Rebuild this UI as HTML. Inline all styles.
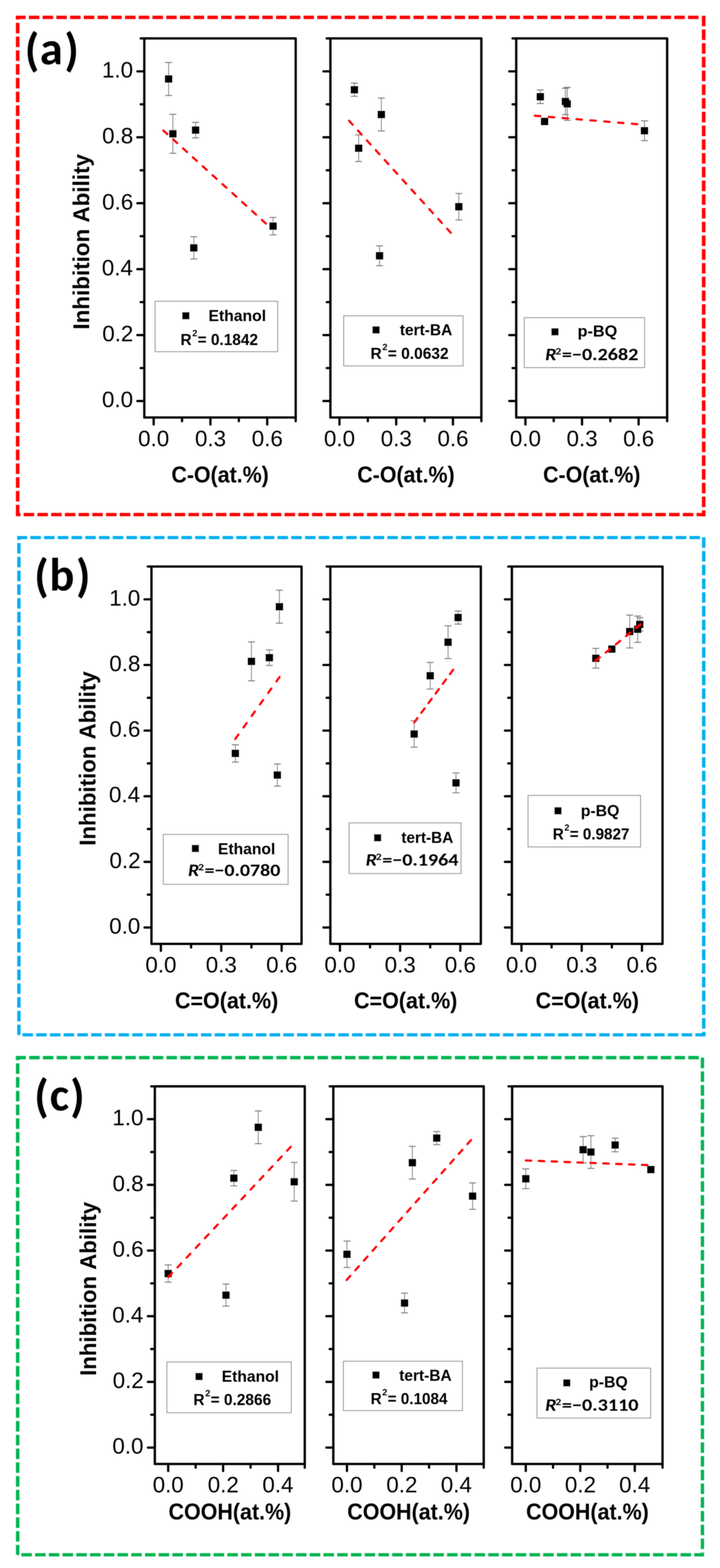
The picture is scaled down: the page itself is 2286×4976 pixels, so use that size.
<!DOCTYPE html>
<html lang="en"><head><meta charset="utf-8"><title>Inhibition Ability vs. oxygen functional groups</title>
<style>
html,body{margin:0;padding:0;background:#fff;}
body{width:2286px;height:4976px;overflow:hidden;}
svg{display:block;}
text{font-kerning:none;}
.r{font-family:"Liberation Sans",Arial,Helvetica,sans-serif;font-weight:normal;}
.b{font-family:"Liberation Sans",Arial,Helvetica,sans-serif;font-weight:bold;}
.c{font-family:Carlito,Calibri,"Liberation Sans",sans-serif;font-weight:bold;}
.ci{font-family:Carlito,Calibri,"Liberation Sans",sans-serif;font-weight:bold;font-style:italic;}
</style></head>
<body>
<svg width="2286" height="4976" viewBox="0 0 2286 4976">
<defs><filter id="soft" x="-2%" y="-2%" width="104%" height="104%"><feGaussianBlur stdDeviation="1"/></filter><filter id="softt" x="-25%" y="-25%" width="150%" height="150%"><feGaussianBlur stdDeviation="1"/></filter></defs>
<rect width="2286" height="4976" fill="#fff"/>
<g filter="url(#soft)">
<line x1="50.3" y1="55.2" x2="2228" y2="55.2" stroke="#FF0000" stroke-width="10.8" stroke-dasharray="33.3 10.3" stroke-dashoffset="2.2"/>
<line x1="2234.2" y1="49.9" x2="2234.2" y2="1638.5" stroke="#FF0000" stroke-width="11.4" stroke-dasharray="33.3 10.3" stroke-dashoffset="0"/>
<line x1="2240" y1="1633" x2="50.6" y2="1633" stroke="#FF0000" stroke-width="10.6" stroke-dasharray="33.3 10.3" stroke-dashoffset="4.9"/>
<line x1="56.1" y1="50.3" x2="56.1" y2="1638.3" stroke="#FF0000" stroke-width="11.2" stroke-dasharray="33.4 10.3" stroke-dashoffset="21.6"/>
<path d="M535.36 198.22V302.94M548.88 362.84V486.41M620.98 388.29V437.51M615.27 751.35V821.72M867 689.99V745.28" stroke="#7a7a7a" stroke-width="2.4" fill="none"/>
<path d="M524.36 198.22h22M524.36 302.94h22M537.88 362.84h22M537.88 486.41h22M609.98 388.29h22M609.98 437.51h22M604.27 751.35h22M604.27 821.72h22M856 689.99h22M856 745.28h22" stroke="#7a7a7a" stroke-width="3" fill="none"/>
<path d="M523.96 239.18h22.8v22.8h-22.8zM537.48 413.22h22.8v22.8h-22.8zM609.58 401.5h22.8v22.8h-22.8zM603.87 775.14h22.8v22.8h-22.8zM855.6 706.23h22.8v22.8h-22.8z" fill="#000"/>
<line x1="518.42" y1="414.08" x2="844.28" y2="709.42" stroke="#FF0000" stroke-width="6.8" stroke-linecap="round" stroke-dasharray="17.2 25.06"/>
<path d="M458.2 121.89H938.8V1324.9H458.2z" stroke="#000" stroke-width="7.4" fill="none" stroke-linejoin="round" stroke-linecap="round"/>
<path d="M458.2 1272.6H436.2M458.2 1063.38H436.2M458.2 854.16H436.2M458.2 644.94H436.2M458.2 435.72H436.2M458.2 226.5H436.2M458.2 1167.99H446.7M458.2 958.77H446.7M458.2 749.55H446.7M458.2 540.33H446.7M458.2 331.11H446.7M458.2 121.89H446.7M487.9 1324.9V1346.9M668.14 1324.9V1346.9M848.38 1324.9V1346.9M578.02 1324.9V1336.4M758.26 1324.9V1336.4M938.8 1324.9V1336.4" stroke="#000" stroke-width="7.2" stroke-linecap="round"/>
<rect x="492.5" y="956.2" width="389.1" height="159.8" fill="#fff" stroke="#8a8a8a" stroke-width="2.6"/>
<rect x="578.6" y="990.6" width="22.8" height="22.8" fill="#000"/>
<path d="M1125.24 263.95V305.85M1138.75 428.08V512.5M1210.81 311.3V415.62M1205.11 780.32V843.17M1456.72 613.89V698.1" stroke="#7a7a7a" stroke-width="2.4" fill="none"/>
<path d="M1114.24 263.95h22M1114.24 305.85h22M1127.75 428.08h22M1127.75 512.5h22M1199.81 311.3h22M1199.81 415.62h22M1194.11 780.32h22M1194.11 843.17h22M1445.72 613.89h22M1445.72 698.1h22" stroke="#7a7a7a" stroke-width="3" fill="none"/>
<path d="M1113.84 273.5h22.8v22.8h-22.8zM1127.35 458.89h22.8v22.8h-22.8zM1199.41 352.06h22.8v22.8h-22.8zM1193.71 800.34h22.8v22.8h-22.8zM1445.32 644.6h22.8v22.8h-22.8z" fill="#000"/>
<line x1="1108.19" y1="383.22" x2="1431.31" y2="738.78" stroke="#FF0000" stroke-width="6.8" stroke-linecap="round" stroke-dasharray="17.2 24.91"/>
<path d="M1049 121.89H1528.3V1324.9H1049z" stroke="#000" stroke-width="7.4" fill="none" stroke-linejoin="round" stroke-linecap="round"/>
<path d="M1049 1272.6H1027M1049 1063.38H1027M1049 854.16H1027M1049 644.94H1027M1049 435.72H1027M1049 226.5H1027M1049 1167.99H1037.5M1049 958.77H1037.5M1049 749.55H1037.5M1049 540.33H1037.5M1049 331.11H1037.5M1049 121.89H1037.5M1077.8 1324.9V1346.9M1257.95 1324.9V1346.9M1438.1 1324.9V1346.9M1167.88 1324.9V1336.4M1348.03 1324.9V1336.4M1528.3 1324.9V1336.4" stroke="#000" stroke-width="7.2" stroke-linecap="round"/>
<rect x="1091.3" y="1002.2" width="378.8" height="158.8" fill="#fff" stroke="#8a8a8a" stroke-width="2.6"/>
<rect x="1182.6" y="1035.6" width="22.8" height="22.8" fill="#000"/>
<path d="M1715.52 285.51V328.45M1800.88 277.14V381.86M1795.19 280.28V364.05M2046.17 383.43V446.26" stroke="#7a7a7a" stroke-width="2.4" fill="none"/>
<path d="M1704.52 285.51h22M1704.52 328.45h22M1789.88 277.14h22M1789.88 381.86h22M1784.19 280.28h22M1784.19 364.05h22M2035.17 383.43h22M2035.17 446.26h22" stroke="#7a7a7a" stroke-width="3" fill="none"/>
<path d="M1704.12 295.58h22.8v22.8h-22.8zM1717.6 374.12h22.8v22.8h-22.8zM1789.48 318.1h22.8v22.8h-22.8zM1783.79 310.77h22.8v22.8h-22.8zM2034.77 403.44h22.8v22.8h-22.8z" fill="#000"/>
<line x1="1698.39" y1="367.28" x2="2023.41" y2="394.12" stroke="#FF0000" stroke-width="6.8" stroke-linecap="round" stroke-dasharray="17.2 26.93"/>
<path d="M1639 121.89H2118.2V1324.9H1639z" stroke="#000" stroke-width="7.4" fill="none" stroke-linejoin="round" stroke-linecap="round"/>
<path d="M1639 1272.6H1617M1639 1063.38H1617M1639 854.16H1617M1639 644.94H1617M1639 435.72H1617M1639 226.5H1617M1639 1167.99H1627.5M1639 958.77H1627.5M1639 749.55H1627.5M1639 540.33H1627.5M1639 331.11H1627.5M1639 121.89H1627.5M1668.2 1324.9V1346.9M1847.9 1324.9V1346.9M2027.6 1324.9V1346.9M1758.05 1324.9V1336.4M1937.75 1324.9V1336.4M2118.2 1324.9V1336.4" stroke="#000" stroke-width="7.2" stroke-linecap="round"/>
<rect x="1664.8" y="1008.1" width="381.6" height="158.4" fill="#fff" stroke="#8a8a8a" stroke-width="2.6"/>
<rect x="1750.6" y="1041.6" width="22.8" height="22.8" fill="#000"/>
</g>
<g filter="url(#softt)"><text class="b" x="662.02" y="1018.8" font-size="49.5" textLength="182.76" lengthAdjust="spacingAndGlyphs">Ethanol</text></g>
<g filter="url(#softt)"><text class="b" x="572.98" y="1094.5" font-size="49.8" textLength="35.31" lengthAdjust="spacingAndGlyphs">R</text><text class="b" x="610.44" y="1066.61" font-size="29.5" textLength="16.11" lengthAdjust="spacingAndGlyphs">2</text><text class="b" x="627.52" y="1094.5" font-size="49.8" textLength="191.69" lengthAdjust="spacingAndGlyphs">= 0.1842</text></g>
<g filter="url(#softt)"><text class="r" x="438.55" y="1415.5" font-size="71" textLength="98.7" lengthAdjust="spacingAndGlyphs">0.0</text></g>
<g filter="url(#softt)"><text class="r" x="618.96" y="1415.5" font-size="71" textLength="98.7" lengthAdjust="spacingAndGlyphs">0.3</text></g>
<g filter="url(#softt)"><text class="r" x="799.2" y="1415.5" font-size="71" textLength="98.7" lengthAdjust="spacingAndGlyphs">0.6</text></g>
<g filter="url(#softt)"><text class="b" x="544.22" y="1531" font-size="71.5" textLength="309.16" lengthAdjust="spacingAndGlyphs">C-O(at.%)</text></g>
<g filter="url(#softt)"><text class="r" x="323.87" y="1292.22" font-size="71" textLength="98.7" lengthAdjust="spacingAndGlyphs">0.0</text></g>
<g filter="url(#softt)"><text class="r" x="324.67" y="1083" font-size="71" textLength="98.7" lengthAdjust="spacingAndGlyphs">0.2</text></g>
<g filter="url(#softt)"><text class="r" x="323.18" y="873.78" font-size="71" textLength="98.7" lengthAdjust="spacingAndGlyphs">0.4</text></g>
<g filter="url(#softt)"><text class="r" x="324.22" y="664.56" font-size="71" textLength="98.7" lengthAdjust="spacingAndGlyphs">0.6</text></g>
<g filter="url(#softt)"><text class="r" x="324.19" y="455.34" font-size="71" textLength="98.7" lengthAdjust="spacingAndGlyphs">0.8</text></g>
<g filter="url(#softt)"><text class="r" x="323.87" y="246.12" font-size="71" textLength="98.7" lengthAdjust="spacingAndGlyphs">1.0</text></g>
<g filter="url(#softt)"><text class="b" x="1269.45" y="1064.3" font-size="49.5" textLength="166.5" lengthAdjust="spacingAndGlyphs">tert-BA</text></g>
<g filter="url(#softt)"><text class="b" x="1176.36" y="1139.1" font-size="49.8" textLength="35.56" lengthAdjust="spacingAndGlyphs">R</text><text class="b" x="1214.08" y="1111.21" font-size="29.5" textLength="16.22" lengthAdjust="spacingAndGlyphs">2</text><text class="b" x="1231.28" y="1139.1" font-size="49.8" textLength="193.04" lengthAdjust="spacingAndGlyphs">= 0.0632</text></g>
<g filter="url(#softt)"><text class="r" x="1028.45" y="1415.5" font-size="71" textLength="98.7" lengthAdjust="spacingAndGlyphs">0.0</text></g>
<g filter="url(#softt)"><text class="r" x="1208.77" y="1415.5" font-size="71" textLength="98.7" lengthAdjust="spacingAndGlyphs">0.3</text></g>
<g filter="url(#softt)"><text class="r" x="1388.92" y="1415.5" font-size="71" textLength="98.7" lengthAdjust="spacingAndGlyphs">0.6</text></g>
<g filter="url(#softt)"><text class="b" x="1134.37" y="1531" font-size="71.5" textLength="309.16" lengthAdjust="spacingAndGlyphs">C-O(at.%)</text></g>
<g filter="url(#softt)"><text class="b" x="1833.86" y="1067.5" font-size="49.5" textLength="125.86" lengthAdjust="spacingAndGlyphs">p-BQ</text></g>
<g filter="url(#softt)"><text class="ci" x="1730.96" y="1142.8" font-size="54.5" textLength="36.02" lengthAdjust="spacingAndGlyphs">R</text><text class="c" x="1763.47" y="1124.82" font-size="31" textLength="18.44" lengthAdjust="spacingAndGlyphs">2</text><text class="c" x="1783.94" y="1142.8" font-size="54.5" textLength="242.92" lengthAdjust="spacingAndGlyphs">=−0.2682</text></g>
<g filter="url(#softt)"><text class="r" x="1618.85" y="1415.5" font-size="71" textLength="98.7" lengthAdjust="spacingAndGlyphs">0.0</text></g>
<g filter="url(#softt)"><text class="r" x="1798.72" y="1415.5" font-size="71" textLength="98.7" lengthAdjust="spacingAndGlyphs">0.3</text></g>
<g filter="url(#softt)"><text class="r" x="1978.42" y="1415.5" font-size="71" textLength="98.7" lengthAdjust="spacingAndGlyphs">0.6</text></g>
<g filter="url(#softt)"><text class="b" x="1724.32" y="1531" font-size="71.5" textLength="309.16" lengthAdjust="spacingAndGlyphs">C-O(at.%)</text></g>
<g filter="url(#softt)"><text class="b" transform="translate(282.9 1041.25) rotate(-90)" x="-4.76" y="0" font-size="71.5" textLength="557.14" lengthAdjust="spacingAndGlyphs">Inhibition Ability</text></g>
<g filter="url(#softt)"><text class="c" font-size="147"><tspan x="78.68" y="207.65">(</tspan><tspan x="126.41" y="204.15">a</tspan><tspan x="204.39" y="207.65">)</tspan></text></g>
<g filter="url(#soft)">
<line x1="54.6" y1="1706" x2="2228.9" y2="1706" stroke="#00B0F0" stroke-width="10.2" stroke-dasharray="33.3 10.3" stroke-dashoffset="1.8"/>
<line x1="2234.3" y1="1705.1" x2="2234.3" y2="3288.8" stroke="#00B0F0" stroke-width="10.8" stroke-dasharray="33.3 10.3" stroke-dashoffset="0"/>
<line x1="2239.8" y1="3284" x2="60" y2="3284" stroke="#00B0F0" stroke-width="10.2" stroke-dasharray="33.3 10.3" stroke-dashoffset="1.2"/>
<line x1="60" y1="1701.4" x2="60" y2="3284.1" stroke="#00B0F0" stroke-width="10.8" stroke-dasharray="33.3 10.36" stroke-dashoffset="21.5"/>
<path d="M887.17 1873.1V1977.51M798.35 2037.23V2160.43M855.22 2062.6V2111.67M880.53 2424.59V2494.75M747.23 2363.41V2418.54" stroke="#7a7a7a" stroke-width="2.4" fill="none"/>
<path d="M876.17 1873.1h22M876.17 1977.51h22M787.35 2037.23h22M787.35 2160.43h22M844.22 2062.6h22M844.22 2111.67h22M869.53 2424.59h22M869.53 2494.75h22M736.23 2363.41h22M736.23 2418.54h22" stroke="#7a7a7a" stroke-width="3" fill="none"/>
<path d="M875.77 1913.9h22.8v22.8h-22.8zM786.95 2087.43h22.8v22.8h-22.8zM843.82 2075.74h22.8v22.8h-22.8zM869.13 2448.27h22.8v22.8h-22.8zM735.83 2379.57h22.8v22.8h-22.8z" fill="#000"/>
<line x1="746.88" y1="2345.14" x2="887.62" y2="2148.46" stroke="#FF0000" stroke-width="6.8" stroke-linecap="round" stroke-dasharray="17.2 27.73"/>
<path d="M480.9 1797.87H957.4V2995.37H480.9z" stroke="#000" stroke-width="7.4" fill="none" stroke-linejoin="round" stroke-linecap="round"/>
<path d="M480.9 2943.3H458.9M480.9 2735.04H458.9M480.9 2526.78H458.9M480.9 2318.52H458.9M480.9 2110.26H458.9M480.9 1902H458.9M480.9 2839.17H469.4M480.9 2630.91H469.4M480.9 2422.65H469.4M480.9 2214.39H469.4M480.9 2006.13H469.4M480.9 1797.87H469.4M510.8 2995.37V3017.37M702.5 2995.37V3017.37M894.2 2995.37V3017.37M606.65 2995.37V3006.87M798.35 2995.37V3006.87" stroke="#000" stroke-width="7.2" stroke-linecap="round"/>
<rect x="518.5" y="2648" width="396.2" height="158.4" fill="#fff" stroke="#8a8a8a" stroke-width="2.6"/>
<rect x="608.9" y="2681.3" width="22.8" height="22.8" fill="#000"/>
<path d="M1454.49 1938.89V1980.61M1365.95 2102.33V2186.39M1422.64 1986.03V2089.92M1447.87 2453.09V2515.67M1314.99 2287.36V2371.21" stroke="#7a7a7a" stroke-width="2.4" fill="none"/>
<path d="M1443.49 1938.89h22M1443.49 1980.61h22M1354.95 2102.33h22M1354.95 2186.39h22M1411.64 1986.03h22M1411.64 2089.92h22M1436.87 2453.09h22M1436.87 2515.67h22M1303.99 2287.36h22M1303.99 2371.21h22" stroke="#7a7a7a" stroke-width="3" fill="none"/>
<path d="M1443.09 1948.35h22.8v22.8h-22.8zM1354.55 2132.96h22.8v22.8h-22.8zM1411.24 2026.58h22.8v22.8h-22.8zM1436.47 2472.98h22.8v22.8h-22.8zM1303.59 2317.89h22.8v22.8h-22.8z" fill="#000"/>
<line x1="1315.02" y1="2292.67" x2="1438.78" y2="2125.53" stroke="#FF0000" stroke-width="6.8" stroke-linecap="round" stroke-dasharray="17.2 20.95"/>
<path d="M1048.9 1797.87H1526.6V2995.37H1048.9z" stroke="#000" stroke-width="7.4" fill="none" stroke-linejoin="round" stroke-linecap="round"/>
<path d="M1048.9 2943.3H1026.9M1048.9 2735.04H1026.9M1048.9 2526.78H1026.9M1048.9 2318.52H1026.9M1048.9 2110.26H1026.9M1048.9 1902H1026.9M1048.9 2839.17H1037.4M1048.9 2630.91H1037.4M1048.9 2422.65H1037.4M1048.9 2214.39H1037.4M1048.9 2006.13H1037.4M1048.9 1797.87H1037.4M1079.3 2995.37V3017.37M1270.4 2995.37V3017.37M1461.5 2995.37V3017.37M1174.85 2995.37V3006.87M1365.95 2995.37V3006.87" stroke="#000" stroke-width="7.2" stroke-linecap="round"/>
<rect x="1108.5" y="2611.5" width="355.2" height="160.6" fill="#fff" stroke="#8a8a8a" stroke-width="2.6"/>
<rect x="1187.6" y="2647.3" width="22.8" height="22.8" fill="#000"/>
<path d="M2031.19 1960.27V2003.04M1999.31 1951.93V2056.23M2024.56 1955.06V2038.5M1891.58 2057.79V2120.37" stroke="#7a7a7a" stroke-width="2.4" fill="none"/>
<path d="M2020.19 1960.27h22M2020.19 2003.04h22M1988.31 1951.93h22M1988.31 2056.23h22M2013.56 1955.06h22M2013.56 2038.5h22M1880.58 2057.79h22M1880.58 2120.37h22" stroke="#7a7a7a" stroke-width="3" fill="none"/>
<path d="M2019.79 1970.25h22.8v22.8h-22.8zM1931.17 2048.48h22.8v22.8h-22.8zM1987.91 1992.68h22.8v22.8h-22.8zM2013.16 1985.38h22.8v22.8h-22.8zM1880.17 2077.68h22.8v22.8h-22.8z" fill="#000"/>
<line x1="1891.14" y1="2096.96" x2="2033.26" y2="1981.64" stroke="#FF0000" stroke-width="6.8" stroke-linecap="round" stroke-dasharray="17.2 24.25"/>
<path d="M1625.2 1797.87H2103.5V2995.37H1625.2z" stroke="#000" stroke-width="7.4" fill="none" stroke-linejoin="round" stroke-linecap="round"/>
<path d="M1625.2 2943.3H1603.2M1625.2 2735.04H1603.2M1625.2 2526.78H1603.2M1625.2 2318.52H1603.2M1625.2 2110.26H1603.2M1625.2 1902H1603.2M1625.2 2839.17H1613.7M1625.2 2630.91H1613.7M1625.2 2422.65H1613.7M1625.2 2214.39H1613.7M1625.2 2006.13H1613.7M1625.2 1797.87H1613.7M1655.7 2995.37V3017.37M1846.95 2995.37V3017.37M2038.2 2995.37V3017.37M1751.33 2995.37V3006.87M1942.58 2995.37V3006.87" stroke="#000" stroke-width="7.2" stroke-linecap="round"/>
<rect x="1676.7" y="2524.3" width="357" height="163.4" fill="#fff" stroke="#8a8a8a" stroke-width="2.6"/>
<rect x="1760.2" y="2561.6" width="22.8" height="22.8" fill="#000"/>
</g>
<g filter="url(#softt)"><text class="b" x="692.13" y="2710.5" font-size="49.5" textLength="182.04" lengthAdjust="spacingAndGlyphs">Ethanol</text></g>
<g filter="url(#softt)"><text class="ci" x="597.09" y="2779.6" font-size="54.5" textLength="35.66" lengthAdjust="spacingAndGlyphs">R</text><text class="c" x="629.27" y="2761.61" font-size="31" textLength="18.26" lengthAdjust="spacingAndGlyphs">2</text><text class="c" x="649.54" y="2779.6" font-size="54.5" textLength="240.51" lengthAdjust="spacingAndGlyphs">=−0.0780</text></g>
<g filter="url(#softt)"><text class="r" x="461.45" y="3085.5" font-size="71" textLength="98.7" lengthAdjust="spacingAndGlyphs">0.0</text></g>
<g filter="url(#softt)"><text class="r" x="653.32" y="3085.5" font-size="71" textLength="98.7" lengthAdjust="spacingAndGlyphs">0.3</text></g>
<g filter="url(#softt)"><text class="r" x="845.02" y="3085.5" font-size="71" textLength="98.7" lengthAdjust="spacingAndGlyphs">0.6</text></g>
<g filter="url(#softt)"><text class="b" x="555.4" y="3200" font-size="71.5" textLength="328.1" lengthAdjust="spacingAndGlyphs">C=O(at.%)</text></g>
<g filter="url(#softt)"><text class="r" x="346.67" y="2962.92" font-size="71" textLength="98.7" lengthAdjust="spacingAndGlyphs">0.0</text></g>
<g filter="url(#softt)"><text class="r" x="347.47" y="2754.66" font-size="71" textLength="98.7" lengthAdjust="spacingAndGlyphs">0.2</text></g>
<g filter="url(#softt)"><text class="r" x="345.98" y="2546.4" font-size="71" textLength="98.7" lengthAdjust="spacingAndGlyphs">0.4</text></g>
<g filter="url(#softt)"><text class="r" x="347.02" y="2338.14" font-size="71" textLength="98.7" lengthAdjust="spacingAndGlyphs">0.6</text></g>
<g filter="url(#softt)"><text class="r" x="346.99" y="2129.88" font-size="71" textLength="98.7" lengthAdjust="spacingAndGlyphs">0.8</text></g>
<g filter="url(#softt)"><text class="r" x="346.67" y="1921.62" font-size="71" textLength="98.7" lengthAdjust="spacingAndGlyphs">1.0</text></g>
<g filter="url(#softt)"><text class="b" x="1274.36" y="2675.4" font-size="49.5" textLength="164.67" lengthAdjust="spacingAndGlyphs">tert-BA</text></g>
<g filter="url(#softt)"><text class="ci" x="1160.97" y="2747" font-size="54.5" textLength="35.86" lengthAdjust="spacingAndGlyphs">R</text><text class="c" x="1193.34" y="2729.01" font-size="31" textLength="18.36" lengthAdjust="spacingAndGlyphs">2</text><text class="c" x="1213.73" y="2747" font-size="54.5" textLength="241.89" lengthAdjust="spacingAndGlyphs">=−0.1964</text></g>
<g filter="url(#softt)"><text class="r" x="1029.95" y="3085.5" font-size="71" textLength="98.7" lengthAdjust="spacingAndGlyphs">0.0</text></g>
<g filter="url(#softt)"><text class="r" x="1221.22" y="3085.5" font-size="71" textLength="98.7" lengthAdjust="spacingAndGlyphs">0.3</text></g>
<g filter="url(#softt)"><text class="r" x="1412.32" y="3085.5" font-size="71" textLength="98.7" lengthAdjust="spacingAndGlyphs">0.6</text></g>
<g filter="url(#softt)"><text class="b" x="1124" y="3200" font-size="71.5" textLength="328.1" lengthAdjust="spacingAndGlyphs">C=O(at.%)</text></g>
<g filter="url(#softt)"><text class="b" x="1843.94" y="2589.5" font-size="49.5" textLength="122.61" lengthAdjust="spacingAndGlyphs">p-BQ</text></g>
<g filter="url(#softt)"><text class="b" x="1755.02" y="2663.5" font-size="49.8" textLength="34.91" lengthAdjust="spacingAndGlyphs">R</text><text class="b" x="1792.05" y="2635.61" font-size="29.5" textLength="15.93" lengthAdjust="spacingAndGlyphs">2</text><text class="b" x="1808.94" y="2663.5" font-size="49.8" textLength="189.54" lengthAdjust="spacingAndGlyphs">= 0.9827</text></g>
<g filter="url(#softt)"><text class="r" x="1606.35" y="3085.5" font-size="71" textLength="98.7" lengthAdjust="spacingAndGlyphs">0.0</text></g>
<g filter="url(#softt)"><text class="r" x="1797.77" y="3085.5" font-size="71" textLength="98.7" lengthAdjust="spacingAndGlyphs">0.3</text></g>
<g filter="url(#softt)"><text class="r" x="1989.02" y="3085.5" font-size="71" textLength="98.7" lengthAdjust="spacingAndGlyphs">0.6</text></g>
<g filter="url(#softt)"><text class="b" x="1700.6" y="3200" font-size="71.5" textLength="328.1" lengthAdjust="spacingAndGlyphs">C=O(at.%)</text></g>
<g filter="url(#softt)"><text class="b" transform="translate(303 2679.25) rotate(-90)" x="-4.73" y="0" font-size="71.5" textLength="553.51" lengthAdjust="spacingAndGlyphs">Inhibition Ability</text></g>
<g filter="url(#softt)"><text class="c" font-size="147"><tspan x="108.68" y="1876.75">(</tspan><tspan x="156.95" y="1873.6">b</tspan><tspan x="241.14" y="1876.75">)</tspan></text></g>
<g filter="url(#soft)">
<line x1="50.3" y1="3356.4" x2="2225" y2="3356.4" stroke="#00B551" stroke-width="10.8" stroke-dasharray="33.3 10.3" stroke-dashoffset="1.3"/>
<line x1="2230.3" y1="3356.4" x2="2230.3" y2="4927.5" stroke="#00B551" stroke-width="10.6" stroke-dasharray="33.3 10.3" stroke-dashoffset="0"/>
<line x1="2235.6" y1="4934" x2="56.2" y2="4934" stroke="#00B551" stroke-width="10.4" stroke-dasharray="33.3 10.3" stroke-dashoffset="2"/>
<line x1="56.1" y1="3350.9" x2="56.1" y2="4934" stroke="#00B551" stroke-width="11" stroke-dasharray="33.3 10.36" stroke-dashoffset="20"/>
<path d="M820.02 3525.49V3629.54M934.25 3689.05V3811.83M742.41 3714.34V3763.24M717.47 4075.08V4145M534 4014.11V4069.04" stroke="#7a7a7a" stroke-width="2.4" fill="none"/>
<path d="M809.02 3525.49h22M809.02 3629.54h22M923.25 3689.05h22M923.25 3811.83h22M731.41 3714.34h22M731.41 3763.24h22M706.47 4075.08h22M706.47 4145h22M523 4014.11h22M523 4069.04h22" stroke="#7a7a7a" stroke-width="3" fill="none"/>
<path d="M808.62 3566.11h22.8v22.8h-22.8zM922.85 3739.04h22.8v22.8h-22.8zM731.01 3727.39h22.8v22.8h-22.8zM706.07 4098.64h22.8v22.8h-22.8zM522.6 4030.18h22.8v22.8h-22.8z" fill="#000"/>
<line x1="534.53" y1="4052.92" x2="923.27" y2="3639.28" stroke="#FF0000" stroke-width="6.8" stroke-linecap="round" stroke-dasharray="17.2 25.14"/>
<path d="M491.6 3447.49H967.6V4645.9H491.6z" stroke="#000" stroke-width="7.4" fill="none" stroke-linejoin="round" stroke-linecap="round"/>
<path d="M491.6 4593.8H469.6M491.6 4385.38H469.6M491.6 4176.96H469.6M491.6 3968.54H469.6M491.6 3760.12H469.6M491.6 3551.7H469.6M491.6 4489.59H480.1M491.6 4281.17H480.1M491.6 4072.75H480.1M491.6 3864.33H480.1M491.6 3655.91H480.1M491.6 3447.49H480.1M534 4645.9V4667.9M708.4 4645.9V4667.9M882.8 4645.9V4667.9M621.2 4645.9V4657.4M795.6 4645.9V4657.4M967.6 4645.9V4657.4" stroke="#000" stroke-width="7.2" stroke-linecap="round"/>
<rect x="529.9" y="4322.2" width="394.8" height="161.1" fill="#fff" stroke="#8a8a8a" stroke-width="2.6"/>
<rect x="620.6" y="4356.9" width="22.8" height="22.8" fill="#000"/>
<path d="M1386.63 3590.9V3632.52M1500.47 3753.94V3837.81M1309.29 3637.93V3741.56M1284.44 4103.86V4166.3M1101.6 3938.53V4022.19" stroke="#7a7a7a" stroke-width="2.4" fill="none"/>
<path d="M1375.63 3590.9h22M1375.63 3632.52h22M1489.47 3753.94h22M1489.47 3837.81h22M1298.29 3637.93h22M1298.29 3741.56h22M1273.44 4103.86h22M1273.44 4166.3h22M1090.6 3938.53h22M1090.6 4022.19h22" stroke="#7a7a7a" stroke-width="3" fill="none"/>
<path d="M1375.23 3600.31h22.8v22.8h-22.8zM1489.07 3784.48h22.8v22.8h-22.8zM1297.89 3678.35h22.8v22.8h-22.8zM1273.04 4123.68h22.8v22.8h-22.8zM1090.2 3968.96h22.8v22.8h-22.8z" fill="#000"/>
<line x1="1100.66" y1="4061.96" x2="1495.54" y2="3617.94" stroke="#FF0000" stroke-width="6.8" stroke-linecap="round" stroke-dasharray="17.2 24.01"/>
<path d="M1058.3 3447.49H1535.8V4645.9H1058.3z" stroke="#000" stroke-width="7.4" fill="none" stroke-linejoin="round" stroke-linecap="round"/>
<path d="M1058.3 4593.8H1036.3M1058.3 4385.38H1036.3M1058.3 4176.96H1036.3M1058.3 3968.54H1036.3M1058.3 3760.12H1036.3M1058.3 3551.7H1036.3M1058.3 4489.59H1046.8M1058.3 4281.17H1046.8M1058.3 4072.75H1046.8M1058.3 3864.33H1046.8M1058.3 3655.91H1046.8M1058.3 3447.49H1046.8M1101.6 4645.9V4667.9M1275.4 4645.9V4667.9M1449.2 4645.9V4667.9M1188.5 4645.9V4657.4M1362.3 4645.9V4657.4M1535.8 4645.9V4657.4" stroke="#000" stroke-width="7.2" stroke-linecap="round"/>
<rect x="1090.2" y="4319.9" width="378" height="156.6" fill="#fff" stroke="#8a8a8a" stroke-width="2.6"/>
<rect x="1182.4" y="4352.3" width="22.8" height="22.8" fill="#000"/>
<path d="M1953.12 3612.23V3654.89M1876.13 3603.9V3707.95M1851.4 3607.03V3690.27M1669.4 3709.52V3771.95" stroke="#7a7a7a" stroke-width="2.4" fill="none"/>
<path d="M1942.12 3612.23h22M1942.12 3654.89h22M1865.13 3603.9h22M1865.13 3707.95h22M1840.4 3607.03h22M1840.4 3690.27h22M1658.4 3709.52h22M1658.4 3771.95h22" stroke="#7a7a7a" stroke-width="3" fill="none"/>
<path d="M1941.72 3622.16h22.8v22.8h-22.8zM2055.03 3700.2h22.8v22.8h-22.8zM1864.73 3644.53h22.8v22.8h-22.8zM1840 3637.25h22.8v22.8h-22.8zM1658 3729.33h22.8v22.8h-22.8z" fill="#000"/>
<line x1="1669.6" y1="3682.63" x2="2055.4" y2="3697.37" stroke="#FF0000" stroke-width="6.8" stroke-linecap="round" stroke-dasharray="17.2 23.79"/>
<path d="M1626 3447.49H2103.5V4645.9H1626z" stroke="#000" stroke-width="7.4" fill="none" stroke-linejoin="round" stroke-linecap="round"/>
<path d="M1626 4593.8H1604M1626 4385.38H1604M1626 4176.96H1604M1626 3968.54H1604M1626 3760.12H1604M1626 3551.7H1604M1626 4489.59H1614.5M1626 4281.17H1614.5M1626 4072.75H1614.5M1626 3864.33H1614.5M1626 3655.91H1614.5M1626 3447.49H1614.5M1669.4 4645.9V4667.9M1842.4 4645.9V4667.9M2015.4 4645.9V4667.9M1755.9 4645.9V4657.4M1928.9 4645.9V4657.4M2103.5 4645.9V4657.4" stroke="#000" stroke-width="7.2" stroke-linecap="round"/>
<rect x="1705" y="4341.8" width="360.6" height="158.4" fill="#fff" stroke="#8a8a8a" stroke-width="2.6"/>
<rect x="1788.1" y="4377.2" width="22.8" height="22.8" fill="#000"/>
</g>
<g filter="url(#softt)"><text class="b" x="703.93" y="4385" font-size="49.5" textLength="181.83" lengthAdjust="spacingAndGlyphs">Ethanol</text></g>
<g filter="url(#softt)"><text class="b" x="614.07" y="4459.1" font-size="49.8" textLength="35.4" lengthAdjust="spacingAndGlyphs">R</text><text class="b" x="651.63" y="4431.21" font-size="29.5" textLength="16.15" lengthAdjust="spacingAndGlyphs">2</text><text class="b" x="668.74" y="4459.1" font-size="49.8" textLength="192.18" lengthAdjust="spacingAndGlyphs">= 0.2866</text></g>
<g filter="url(#softt)"><text class="r" x="484.65" y="4736.3" font-size="71" textLength="98.7" lengthAdjust="spacingAndGlyphs">0.0</text></g>
<g filter="url(#softt)"><text class="r" x="659.45" y="4736.3" font-size="71" textLength="98.7" lengthAdjust="spacingAndGlyphs">0.2</text></g>
<g filter="url(#softt)"><text class="r" x="833.1" y="4736.3" font-size="71" textLength="98.7" lengthAdjust="spacingAndGlyphs">0.4</text></g>
<g filter="url(#softt)"><text class="b" x="535.06" y="4822" font-size="71.5" textLength="389.68" lengthAdjust="spacingAndGlyphs">COOH(at.%)</text></g>
<g filter="url(#softt)"><text class="r" x="356.87" y="4613.42" font-size="71" textLength="98.7" lengthAdjust="spacingAndGlyphs">0.0</text></g>
<g filter="url(#softt)"><text class="r" x="357.67" y="4405" font-size="71" textLength="98.7" lengthAdjust="spacingAndGlyphs">0.2</text></g>
<g filter="url(#softt)"><text class="r" x="356.18" y="4196.58" font-size="71" textLength="98.7" lengthAdjust="spacingAndGlyphs">0.4</text></g>
<g filter="url(#softt)"><text class="r" x="357.22" y="3988.16" font-size="71" textLength="98.7" lengthAdjust="spacingAndGlyphs">0.6</text></g>
<g filter="url(#softt)"><text class="r" x="357.19" y="3779.74" font-size="71" textLength="98.7" lengthAdjust="spacingAndGlyphs">0.8</text></g>
<g filter="url(#softt)"><text class="r" x="356.87" y="3571.32" font-size="71" textLength="98.7" lengthAdjust="spacingAndGlyphs">1.0</text></g>
<g filter="url(#softt)"><text class="b" x="1267.45" y="4381.5" font-size="49.5" textLength="166.6" lengthAdjust="spacingAndGlyphs">tert-BA</text></g>
<g filter="url(#softt)"><text class="b" x="1176.71" y="4455.9" font-size="49.8" textLength="34.99" lengthAdjust="spacingAndGlyphs">R</text><text class="b" x="1213.83" y="4428.01" font-size="29.5" textLength="15.96" lengthAdjust="spacingAndGlyphs">2</text><text class="b" x="1230.75" y="4455.9" font-size="49.8" textLength="189.96" lengthAdjust="spacingAndGlyphs">= 0.1084</text></g>
<g filter="url(#softt)"><text class="r" x="1052.25" y="4736.3" font-size="71" textLength="98.7" lengthAdjust="spacingAndGlyphs">0.0</text></g>
<g filter="url(#softt)"><text class="r" x="1226.45" y="4736.3" font-size="71" textLength="98.7" lengthAdjust="spacingAndGlyphs">0.2</text></g>
<g filter="url(#softt)"><text class="r" x="1399.5" y="4736.3" font-size="71" textLength="98.7" lengthAdjust="spacingAndGlyphs">0.4</text></g>
<g filter="url(#softt)"><text class="b" x="1102.51" y="4822" font-size="71.5" textLength="389.68" lengthAdjust="spacingAndGlyphs">COOH(at.%)</text></g>
<g filter="url(#softt)"><text class="b" x="1870.44" y="4403.4" font-size="49.5" textLength="122.61" lengthAdjust="spacingAndGlyphs">p-BQ</text></g>
<g filter="url(#softt)"><text class="ci" x="1730.96" y="4477.4" font-size="54.5" textLength="36.08" lengthAdjust="spacingAndGlyphs">R</text><text class="c" x="1763.52" y="4459.41" font-size="31" textLength="18.47" lengthAdjust="spacingAndGlyphs">2</text><text class="c" x="1784.03" y="4477.4" font-size="54.5" textLength="243.33" lengthAdjust="spacingAndGlyphs">=−0.3110</text></g>
<g filter="url(#softt)"><text class="r" x="1620.05" y="4736.3" font-size="71" textLength="98.7" lengthAdjust="spacingAndGlyphs">0.0</text></g>
<g filter="url(#softt)"><text class="r" x="1793.45" y="4736.3" font-size="71" textLength="98.7" lengthAdjust="spacingAndGlyphs">0.2</text></g>
<g filter="url(#softt)"><text class="r" x="1965.7" y="4736.3" font-size="71" textLength="98.7" lengthAdjust="spacingAndGlyphs">0.4</text></g>
<g filter="url(#softt)"><text class="b" x="1670.21" y="4822" font-size="71.5" textLength="389.68" lengthAdjust="spacingAndGlyphs">COOH(at.%)</text></g>
<g filter="url(#softt)"><text class="b" transform="translate(304.7 4361.65) rotate(-90)" x="-4.72" y="0" font-size="71.5" textLength="552.3" lengthAdjust="spacingAndGlyphs">Inhibition Ability</text></g>
<g filter="url(#softt)"><text class="c" font-size="147"><tspan x="108.68" y="3528.15">(</tspan><tspan x="157.7" y="3524">c</tspan><tspan x="223.04" y="3528.15">)</tspan></text></g>
</svg>
</body></html>
